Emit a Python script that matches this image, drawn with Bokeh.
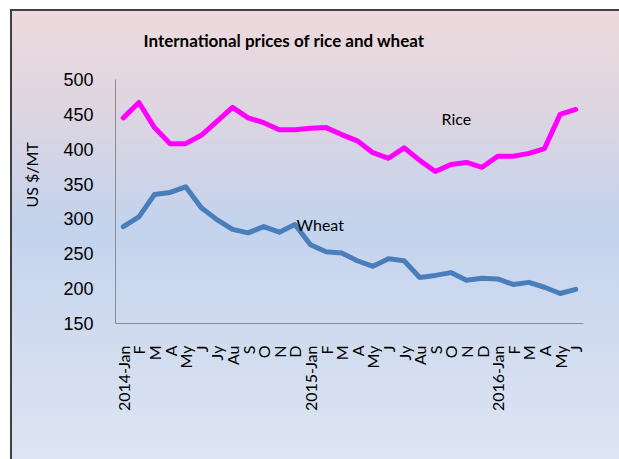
from bokeh.plotting import figure
from bokeh.models import FixedTicker, Label, Range1d
from bokeh.embed import file_html
from bokeh.resources import INLINE

month_labels = ["2014-Jan", "F", "M", "A", "My", "J", "Jy", "Au", "S", "O", "N", "D",
                "2015-Jan", "F", "M", "A", "My", "J", "Jy", "Au", "S", "O", "N", "D",
                "2016-Jan", "F", "M", "A", "My", "J"]
rice = [445, 467, 431, 408, 408, 420, 440, 460, 445, 438, 428, 428,
        430, 431, 421, 412, 395, 387, 402, 384, 368, 378, 381, 374,
        390, 390, 394, 401, 450, 457]
wheat = [289, 303, 335, 338, 346, 316, 299, 285, 280, 289, 281, 292,
         263, 253, 251, 240, 232, 243, 240, 216, 219, 223, 212, 215,
         214, 206, 209, 202, 193, 199]
y_ticks = [150, 200, 250, 300, 350, 400, 450, 500]

x = list(range(len(month_labels)))

p = figure(width=619, height=459, output_backend="svg", toolbar_location=None,
           x_range=Range1d(-0.5, len(month_labels) - 0.5), y_range=Range1d(150, 500),
           min_border_left=115, min_border_right=36, min_border_top=79, min_border_bottom=136)

p.styles = {
    "background": "linear-gradient(180deg, #efdbdc 0%, #ddd5e1 25%, #c3d3ed 49%, #cfdaef 70%, #dde5f3 100%)",
    "box-shadow": "inset 10px 9px 0 0 #ffffff, inset 12px 11px 0 0 #404040",
}
p.background_fill_color = None
p.border_fill_color = None
p.outline_line_color = None
p.grid.visible = False

p.title.text = "International prices of rice and wheat"
p.title.text_font = "Lato"
p.title.text_font_size = "17px"
p.title.text_font_style = "bold"
p.title.text_color = "#000000"
p.title.align = "left"
p.title.offset = 28
p.title.vertical_align = "top"
p.title.standoff = 54

p.line(x, rice, line_color="#ff00ff", line_width=5, line_join="round", line_cap="round")
p.line(x, wheat, line_color="#4a7ebb", line_width=5, line_join="round", line_cap="round")

p.add_layout(Label(x=20.4, y=444, text="Rice", text_font="Lato", text_font_size="16px",
                   text_baseline="middle", text_align="left", text_color="#000000"))
p.add_layout(Label(x=11.1, y=292, text="Wheat", text_font="Lato", text_font_size="16px",
                   text_baseline="middle", text_align="left", text_color="#000000"))

xa = p.xaxis[0]
xa.ticker = FixedTicker(ticks=x)
xa.major_label_overrides = {i: lab for i, lab in enumerate(month_labels)}
xa.major_label_orientation = 3.14159265 / 2
xa.major_tick_out = 0
xa.major_tick_in = 0
xa.minor_tick_out = 0
xa.minor_tick_in = 0
xa.major_label_standoff = 22
xa.major_label_text_font = "Lato"
xa.major_label_text_font_size = "16px"
xa.major_label_text_color = "#000000"
xa.axis_line_color = "#8c8c8c"

ya = p.yaxis[0]
ya.ticker = FixedTicker(ticks=y_ticks)
ya.major_tick_out = 0
ya.major_tick_in = 0
ya.minor_tick_out = 0
ya.minor_tick_in = 0
ya.major_label_standoff = 22
ya.major_label_text_font = "Liberation Sans"
ya.major_label_text_font_size = "18px"
ya.major_label_text_color = "#000000"
ya.axis_line_color = "#8c8c8c"
ya.axis_label = "\u00a0" * 13 + "US $/MT"
ya.axis_label_text_font = "Lato"
ya.axis_label_text_font_size = "16px"
ya.axis_label_text_font_style = "normal"
ya.axis_label_standoff = 19
ya.axis_label_text_color = "#000000"

open("out.html", "w").write(file_html(p, INLINE))
